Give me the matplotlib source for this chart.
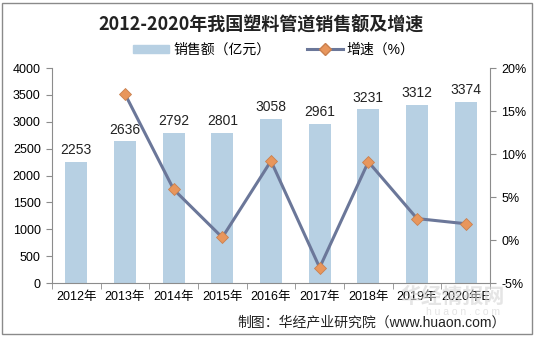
import matplotlib
matplotlib.use("Agg")
import matplotlib.pyplot as plt
from matplotlib.patches import Rectangle
from matplotlib.lines import Line2D
import numpy as np

plt.rcParams['font.family'] = ['Liberation Sans', 'Noto Sans CJK SC', 'DejaVu Sans']

years = ["2012年", "2013年", "2014年", "2015年", "2016年", "2017年", "2018年", "2019年", "2020年E"]
sales = [2253, 2636, 2792, 2801, 3058, 2961, 3231, 3312, 3374]
growth = [None, 17.0, 5.9, 0.3, 9.2, -3.2, 9.1, 2.5, 1.9]

bar_color = "#b7d0e3"
line_color = "#6b7799"
marker_color = "#e8965c"
axis_color = "#8c8c8c"

fig = plt.figure(figsize=(5.35, 3.37), dpi=100)
fig.patches.append(Rectangle((0.004, 0.01), 0.99, 0.982, transform=fig.transFigure,
                             fill=False, edgecolor="#8a8a8a", linewidth=1.0))

ax = fig.add_axes([0.097, 0.160, 0.819, 0.638])
x = np.arange(len(years))
ax.bar(x, sales, width=0.45, color=bar_color, zorder=1)
for xi, v in zip(x, sales):
    ax.text(xi, v + 90, f"{v}", ha="center", va="bottom", fontsize=10, color="#222222")

ax.set_xlim(-0.5, len(years) - 0.5)
ax.set_ylim(0, 4000)
ax.set_yticks(np.arange(0, 4001, 500))
ax.set_xticks(x)
ax.set_xticklabels(years, fontsize=9)
ax.set_xticks(np.arange(-0.5, len(years), 1), minor=True)
ax.tick_params(axis="x", which="major", length=0, pad=6)
ax.tick_params(axis="x", which="minor", length=4, color=axis_color)
ax.tick_params(axis="y", labelsize=9, length=4, color=axis_color, pad=4)
for s in ["top", "right"]:
    ax.spines[s].set_visible(False)
for s in ["left", "bottom"]:
    ax.spines[s].set_color(axis_color)

ax2 = ax.twinx()
gx = [xi for xi, g in zip(x, growth) if g is not None]
gy = [g for g in growth if g is not None]
ax2.plot(gx, gy, color=line_color, linewidth=2.2, marker="D", markersize=6,
         markerfacecolor=marker_color, markeredgecolor="#c9804f", markeredgewidth=0.6, zorder=3)
ax2.set_ylim(-5, 20)
ax2.set_yticks(np.arange(-5, 21, 5))
ax2.set_yticklabels([f"{t}%" for t in range(-5, 21, 5)])
ax2.tick_params(axis="y", labelsize=9, length=4, color=axis_color, pad=4)
for s in ["top", "left", "bottom"]:
    ax2.spines[s].set_visible(False)
ax2.spines["right"].set_color(axis_color)

fig.text(0.488, 0.925, "2012-2020年我国塑料管道销售额及增速", ha="center", va="center",
         fontsize=13, fontweight="bold", family=["Noto Sans CJK SC"], color="#222222")

handles = [Rectangle((0, 0), 1, 1, color=bar_color),
           Line2D([0], [0], color=line_color, linewidth=2.2, marker="D", markersize=6,
                  markerfacecolor=marker_color, markeredgecolor="#c9804f")]
fig.legend(handles, ["销售额（亿元）", "增速（%）"], loc="center", bbox_to_anchor=(0.512, 0.852),
           ncol=2, frameon=False, fontsize=10, handlelength=2.6, handleheight=0.5,
           columnspacing=2.6, handletextpad=0.3)

# faint site watermark in the lower-right corner
fig.text(0.943, 0.122, "华经情报网", ha="right", va="center", fontsize=15, fontweight="bold",
         color="#d4d4d4", alpha=0.6, family=["Noto Sans CJK SC"])
fig.text(0.935, 0.075, "h u a o n . c o m", ha="right", va="center", fontsize=7.5,
         color="#d8d8d8", alpha=0.7)

fig.text(0.945, 0.043, "制图：华经产业研究院（www.huaon.com）", ha="right", va="center",
         fontsize=10, color="#222222")

fig.savefig("out.png", dpi=100)
